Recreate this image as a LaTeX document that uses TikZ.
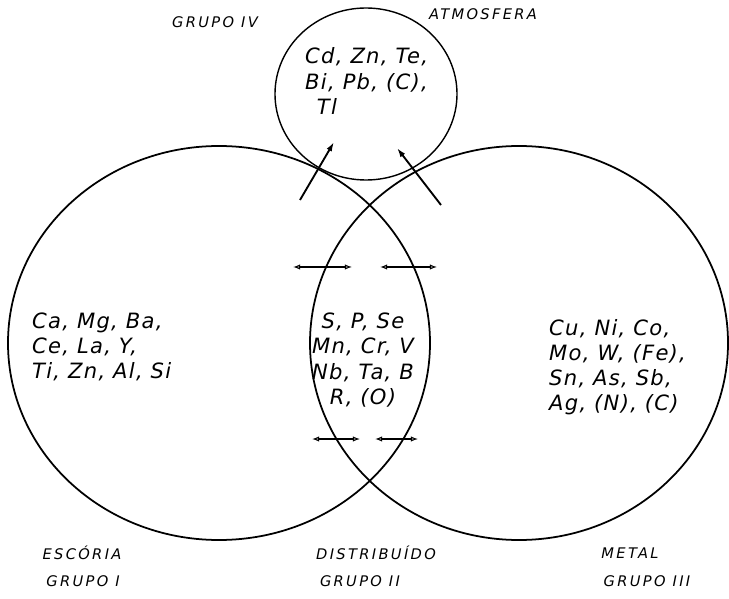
\documentclass[tikz,border=0pt]{standalone}
\usepackage{fontspec}
\setmainfont{DejaVu Sans}
\usetikzlibrary{shapes.geometric, arrows.meta}

\begin{document}
\begin{tikzpicture}[x=0.03cm, y=-0.03cm,
        fase/.style={draw, ellipse, inner sep=0pt, line width=1.5pt},
        elem/.style={font=\fontsize{18}{21.5}\selectfont\itshape\addfontfeatures{LetterSpace=6}, align=left, inner sep=0pt},
        rotulo/.style={font=\fontsize{12.5}{14}\selectfont\itshape\addfontfeatures{LetterSpace=16}, inner sep=0pt},
        sobe/.style={line width=1.6pt, -{Latex[open, length=8pt, width=5pt]}},
        troca/.style={line width=0.9pt, {Latex[open, length=6pt, width=4.5pt]}-{Latex[open, length=6pt, width=4.5pt]}},
    ]
    \useasboundingbox (0,0) rectangle (729,599);

    % fases
    \node[fase, minimum width=12.66cm, minimum height=11.82cm] (esc) at (219,343) {};
    \node[fase, minimum width=12.54cm, minimum height=11.82cm] (met) at (519,343) {};
    \node[fase, line width=1.2pt, minimum width=5.46cm, minimum height=5.16cm] (atm) at (366,94) {};

    % elementos
    \node[elem, anchor=west] (g4) at (305,81) {Cd, Zn, Te,\\Bi, Pb, (C),\\\hspace{10pt}Tl};
    \node[elem, anchor=west] (g1) at (32,347) {Ca, Mg, Ba,\\Ce, La, Y,\\Ti, Zn, Al, Si};
    \node[elem, align=center] (g2) at (363,360) {S, P, Se\\Mn, Cr, V\\Nb, Ta, B\\R, (O)};
    \node[elem, anchor=west] (g3) at (549,367) {Cu, Ni, Co,\\Mo, W, (Fe),\\Sn, As, Sb,\\Ag, (N), (C)};

    % passagem para a atmosfera
    \coordinate (s1) at (300,200); \coordinate (t1) at (334,142);
    \coordinate (s2) at (441,205); \coordinate (t2) at (397,148);
    \draw[sobe] (s1) -- (t1);
    \draw[sobe] (s2) -- (t2);

    % trocas escoria/metal
    \coordinate (m1) at (293,267); \coordinate (m2) at (352,267);
    \coordinate (m3) at (380,267); \coordinate (m4) at (437,267);
    \coordinate (b1) at (312,439); \coordinate (b2) at (360,439);
    \coordinate (b3) at (375,439); \coordinate (b4) at (418,439);
    \draw[troca] (m1) -- (m2);
    \draw[troca] (m3) -- (m4);
    \draw[troca] (b1) -- (b2);
    \draw[troca] (b3) -- (b4);

    % rotulos
    \node[rotulo] (atmlbl) at (483,14) {ATMOSFERA};
    \node[rotulo] (g4lbl) at (215,22) {GRUPO IV};
    \node[rotulo] (esclbl) at (82,553) {ESCÓRIA};
    \node[rotulo] (g1lbl) at (83,581) {GRUPO I};
    \node[rotulo] (distlbl) at (376,553) {DISTRIBUÍDO};
    \node[rotulo] (g2lbl) at (360,581) {GRUPO II};
    \node[rotulo] (metlbl) at (630,553) {METAL};
    \node[rotulo] (g3lbl) at (647,581) {GRUPO III};
\end{tikzpicture}
\end{document}
